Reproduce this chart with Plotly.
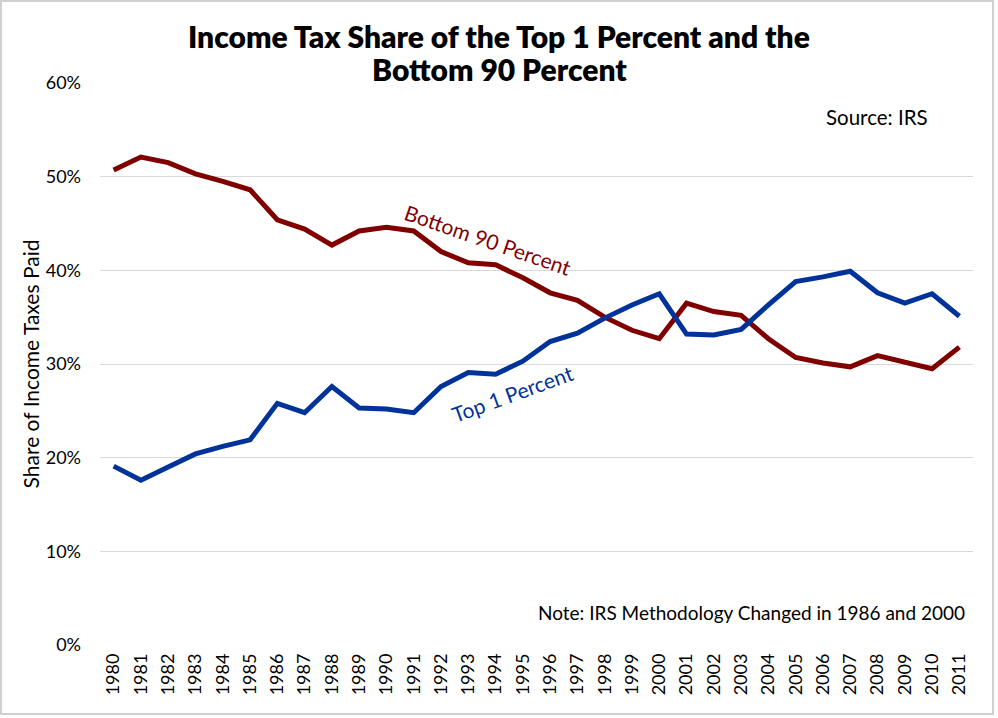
import plotly.graph_objects as go

years = list(range(1980, 2012))
top1 = [19.1, 17.6, 19.0, 20.4, 21.2, 21.9, 25.8, 24.8, 27.6, 25.3, 25.2, 24.8,
        27.6, 29.1, 28.9, 30.3, 32.4, 33.3, 34.9, 36.3, 37.5, 33.2, 33.1, 33.7,
        36.3, 38.8, 39.3, 39.9, 37.6, 36.5, 37.5, 35.1]
bottom90 = [50.7, 52.1, 51.5, 50.3, 49.5, 48.6, 45.4, 44.4, 42.7, 44.2, 44.6, 44.2,
            42.0, 40.8, 40.6, 39.2, 37.6, 36.8, 35.0, 33.6, 32.7, 36.5, 35.6, 35.2,
            32.7, 30.7, 30.1, 29.7, 30.9, 30.2, 29.5, 31.8]
y_ticks = [0, 10, 20, 30, 40, 50, 60]
y_tick_labels = [f"{v}%" for v in y_ticks]

RED = "#800000"
BLUE = "#003399"
FONT = "Lato"

fig = go.Figure()
fig.add_trace(go.Scatter(x=years, y=bottom90, mode="lines", name="Bottom 90 Percent",
                         line=dict(color=RED, width=5)))
fig.add_trace(go.Scatter(x=years, y=top1, mode="lines", name="Top 1 Percent",
                         line=dict(color=BLUE, width=5)))

W, H = 998, 718
L, R, T, B = 100, 25, 83, 73
pw, ph = W - L - R, H - T - B

def px(x):
    return (x - L) / pw

def py(y):
    return (H - B - y) / ph

fig.update_layout(
    width=W, height=H,
    margin=dict(l=L, r=R, t=T, b=B, autoexpand=False),
    paper_bgcolor="white", plot_bgcolor="white",
    showlegend=False,
    font=dict(family=FONT, color="black", size=16),
    xaxis=dict(range=[1979.5, 2011.5], tickmode="array", tickvals=years,
               ticktext=[str(y) for y in years], tickangle=-90,
               showgrid=False, zeroline=False, showline=False, ticks="",
               ticklabelstandoff=4,
               tickfont=dict(size=18, family=FONT, color="black")),
    yaxis=dict(range=[0, 60], tickmode="array", tickvals=y_ticks, ticktext=y_tick_labels,
               showgrid=True, gridcolor="#d9d9d9", gridwidth=1, zeroline=False,
               showline=False, ticks="", ticklabelstandoff=18,
               tickfont=dict(size=18, family=FONT, color="black"),
               title=dict(text="Share of Income Taxes Paid", standoff=0,
                          font=dict(size=21, family=FONT, color="black"))),
)

fig.add_annotation(text="Income Tax Share of the Top 1 Percent and the",
                   x=px(499), y=py(36), xref="paper", yref="paper", showarrow=False,
                   xanchor="center", yanchor="middle",
                   font=dict(family=FONT, size=30, color="black", weight=800))
fig.add_annotation(text="Bottom 90 Percent",
                   x=px(499), y=py(69), xref="paper", yref="paper", showarrow=False,
                   xanchor="center", yanchor="middle",
                   font=dict(family=FONT, size=30, color="black", weight=800))

fig.add_annotation(text="Bottom 90 Percent", x=px(488), y=py(239), xref="paper", yref="paper",
                   xanchor="center", yanchor="middle",
                   showarrow=False, textangle=19, font=dict(color=RED, size=21, family=FONT))
fig.add_annotation(text="Top 1 Percent", x=px(512), y=py(394), xref="paper", yref="paper",
                   xanchor="center", yanchor="middle",
                   showarrow=False, textangle=-20, font=dict(color=BLUE, size=21, family=FONT))
fig.add_annotation(text="Source: IRS", x=px(930), y=py(117), xref="paper", yref="paper",
                   xanchor="right", yanchor="middle", showarrow=False,
                   font=dict(size=20.5, family=FONT, color="black"))
fig.add_annotation(text="Note: IRS Methodology Changed in 1986 and 2000", x=px(967), y=py(612),
                   xref="paper", yref="paper", xanchor="right", yanchor="middle", showarrow=False,
                   font=dict(size=19, family=FONT, color="black"))

# outer frame
fig.add_shape(type="rect", xref="paper", yref="paper", x0=px(1), y0=py(1), x1=px(993), y1=py(714),
              line=dict(color="#d0d0d0", width=2), fillcolor="rgba(0,0,0,0)", layer="below")

fig.write_html("out.html", config={"displayModeBar": False},
               post_script="document.body.style.margin='0';")
